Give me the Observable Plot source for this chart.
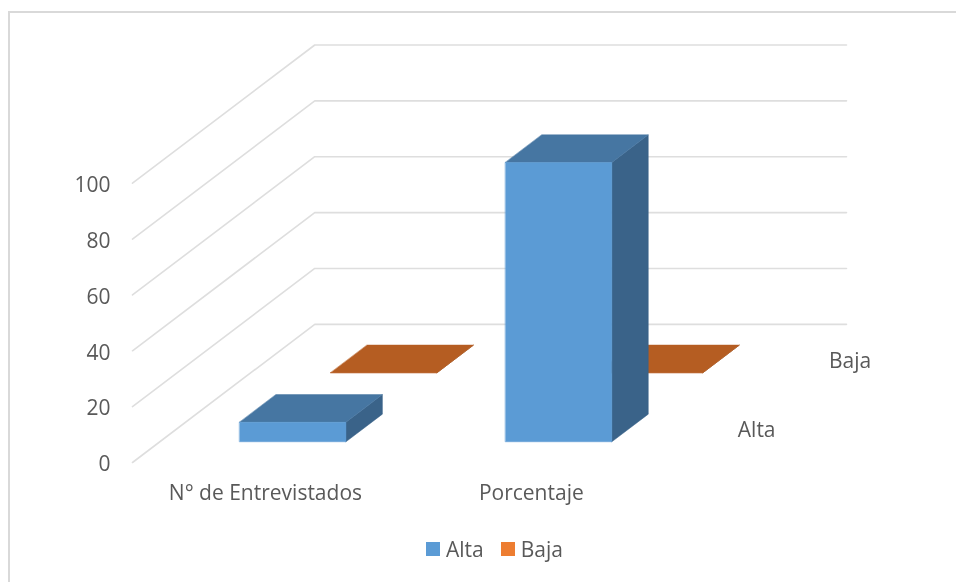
<!DOCTYPE html>
<html>
<head>
<meta charset="utf-8">
<script src="https://cdn.jsdelivr.net/npm/d3@7"></script>
<script src="https://cdn.jsdelivr.net/npm/@observablehq/plot@0.6"></script>
<style>
  html, body { margin: 0; padding: 0; background: #fff; }
  #chart { position: relative; width: 956px; height: 582px; overflow: hidden; font-family: "Open Sans", sans-serif; color: #595959; filter: blur(0.35px); }
  #frame { position: absolute; left: 8px; top: 11px; right: -4px; bottom: -4px; border: 2px solid #d9d9d9; box-sizing: border-box; }
  #plot svg { display: block; position: relative; }
  #legend { display: flex; justify-content: flex-start; align-items: center; height: 38px; padding-left: 426px; font-size: 21px; box-sizing: border-box; position: relative; }
  #legend .sw { width: 14px; height: 14px; display: inline-block; margin-right: 6px; }
  #legend .it { display: inline-flex; align-items: center; margin-right: 17px; }
</style>
</head>
<body>
<div id="chart"><div id="frame"></div><div id="plot"></div><div id="legend"></div></div>
<script>
const categories = ["N° de Entrevistados", "Porcentaje"];
const seriesNames = ["Alta", "Baja"];
const alta = [7, 100];
const baja = [0, 0];
const yTicks = [0, 20, 40, 60, 80, 100];
const legendColors = ["#5b9bd5", "#ed7d31"];
const faceColors = {
  Alta: {front: "#5b9bd5", top: "#4676a2", side: "#3a6389"},
  Baja: {front: "#b55d22", top: "#b55d22", side: "#8f4a1b"}
};

// Oblique projection of the chart's 3-D space (category c, series depth t, value v)
const skewX = 182 / 265.5;  // horizontal shift of the whole depth, in category units
const skewY = 138 / 2.79;   // vertical shift of the whole depth, in value units
const px = (c, t) => c + t * skewX;
const py = (v, t) => v + t * skewY;
const barWidth = 0.4, barDepth = 0.2;

const faces = [];
function addBar(series, catIndex, value, seriesIndex) {
  const c0 = catIndex + 0.5 - barWidth / 2, c1 = c0 + barWidth;
  const t0 = (seriesIndex + 0.5) / seriesNames.length - barDepth / 2, t1 = t0 + barDepth;
  const col = faceColors[series];
  const face = (name, pts) => pts.forEach(([c, t, v]) =>
    faces.push({id: `${series}-${catIndex}-${name}`, x: px(c, t), y: py(v, t), fill: col[name]}));
  face("side", [[c1, t0, 0], [c1, t1, 0], [c1, t1, value], [c1, t0, value]]);
  face("top", [[c0, t0, value], [c1, t0, value], [c1, t1, value], [c0, t1, value]]);
  face("front", [[c0, t0, 0], [c1, t0, 0], [c1, t0, value], [c0, t0, value]]);
}
baja.forEach((v, i) => addBar("Baja", i, v, 1));
alta.forEach((v, i) => addBar("Alta", i, v, 0));

const nCat = categories.length;
const grid = yTicks.flatMap(v => [
  {v, x: px(0, 0), y: py(v, 0)},
  {v, x: px(0, 1), y: py(v, 1)},
  {v, x: px(nCat, 1), y: py(v, 1)}
]);

const font = {fontFamily: "Open Sans, sans-serif", fontSize: 21, fill: "#595959"};

const plot = Plot.plot({
  width: 956, height: 530,
  marginLeft: 132, marginRight: 110, marginTop: 44.5, marginBottom: 68,
  x: {domain: [0, px(nCat, 0) + skewX], axis: null},
  y: {domain: [0, py(100, 1)], axis: null},
  color: {type: "identity"},
  style: {background: "transparent", overflow: "visible"},
  marks: [
    Plot.line(grid, {x: "x", y: "y", z: "v", stroke: "#dedede", strokeWidth: 1.6, curve: "linear"}),
    Plot.line(faces, {x: "x", y: "y", z: "id", fill: "fill", stroke: "fill", strokeWidth: 0.5, curve: "linear-closed"}),
    Plot.text(yTicks, {x: () => 0, y: d => d, text: d => String(d), textAnchor: "end", dx: -22, dy: 2, ...font}),
    Plot.text(categories, {x: (d, i) => i + 0.5, y: () => 0, text: d => d, dy: 31, ...font}),
    Plot.text(seriesNames, {x: (d, i) => px(nCat, (i + 0.5) / seriesNames.length), y: (d, i) => py(0, (i + 0.5) / seriesNames.length), text: d => d, textAnchor: "start", dx: 28, dy: 2, ...font})
  ]
});
document.getElementById("plot").appendChild(plot);

const legend = document.getElementById("legend");
seriesNames.forEach((name, i) => {
  const it = document.createElement("span"); it.className = "it";
  const sw = document.createElement("span"); sw.className = "sw"; sw.style.background = legendColors[i];
  it.appendChild(sw); it.appendChild(document.createTextNode(name));
  legend.appendChild(it);
});
</script>
</body>
</html>
